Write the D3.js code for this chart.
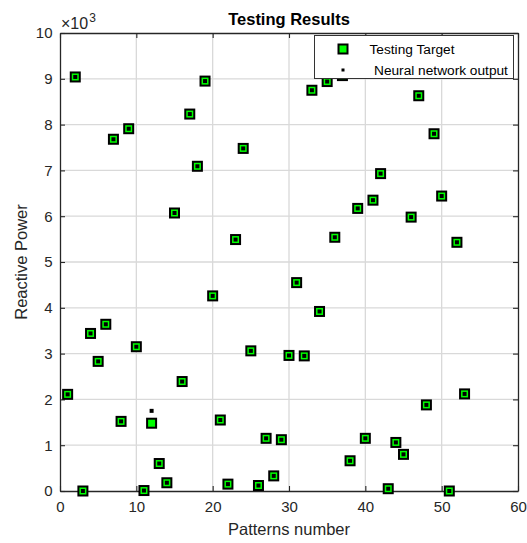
<!DOCTYPE html>
<html>
<head>
<meta charset="utf-8">
<script src="https://cdn.jsdelivr.net/npm/d3@7"></script>
<style>
  body { margin: 0; background: #fff; }
  text { font-family: "Liberation Sans", Arial, sans-serif; }
</style>
</head>
<body>
<div id="chart"></div>
<script>
// pattern index (x) and the two series
const patterns = [1, 2, 3, 4, 5, 6, 7, 8, 9, 10, 11, 12, 13, 14, 15, 16, 17, 18, 19, 20,
  21, 22, 23, 24, 25, 26, 27, 28, 29, 30, 31, 32, 33, 34, 35, 36, 37, 38, 39, 40,
  41, 42, 43, 44, 45, 46, 47, 48, 49, 50, 51, 52, 53];
const testingTarget = [2110, 9040, 0, 3440, 2830, 3640, 7680, 1520, 7910, 3150,
  10, 1480, 600, 180, 6070, 2390, 8230, 7090, 8950, 4260,
  1550, 150, 5490, 7480, 3060, 120, 1150, 330, 1120, 2960,
  4550, 2950, 8750, 3920, 8940, 5540, 9070, 660, 6170, 1150,
  6350, 6930, 50, 1060, 800, 5980, 8630, 1880, 7800, 6440,
  0, 5430, 2120];
const networkOutput = [2110, 9040, 0, 3440, 2830, 3640, 7680, 1520, 7910, 3150,
  10, 1750, 600, 180, 6070, 2390, 8230, 7090, 8950, 4260,
  1550, 150, 5490, 7480, 3060, 120, 1150, 330, 1120, 2960,
  4550, 2950, 8750, 3920, 8940, 5540, 9070, 660, 6170, 1150,
  6350, 6930, 50, 1060, 800, 5980, 8630, 1880, 7800, 6440,
  0, 5430, 2120];
const xTicks = [0, 10, 20, 30, 40, 50, 60];
const yTicks = [0, 1000, 2000, 3000, 4000, 5000, 6000, 7000, 8000, 9000, 10000];
const legendLabels = ['Testing Target', 'Neural network output'];

const width = 527;
const height = 543;
const margin = { top: 33, right: 9, bottom: 52, left: 60 };
const axisColor = '#262626';

const svg = d3.select('#chart')
  .append('svg')
  .attr('width', width)
  .attr('height', height);

const chartWidth = width - margin.left - margin.right;
const chartHeight = height - margin.top - margin.bottom;

const chart = svg.append('g')
  .attr('transform', `translate(${margin.left},${margin.top})`);

const xScale = d3.scaleLinear().domain([0, 60]).range([0, chartWidth]);
const yScale = d3.scaleLinear().domain([0, 10000]).range([chartHeight, 0]);

// grid
chart.append('g')
  .attr('class', 'grid')
  .selectAll('line.gx')
  .data(xTicks.slice(1, -1))
  .enter().append('line')
  .attr('x1', d => xScale(d)).attr('x2', d => xScale(d))
  .attr('y1', 0).attr('y2', chartHeight)
  .attr('stroke', '#d9d9d9').attr('stroke-width', 1.3);
chart.select('.grid')
  .selectAll('line.gy')
  .data(yTicks.slice(1, -1))
  .enter().append('line')
  .attr('x1', 0).attr('x2', chartWidth)
  .attr('y1', d => yScale(d)).attr('y2', d => yScale(d))
  .attr('stroke', '#d9d9d9').attr('stroke-width', 1.3);

// axes, ticks pointing inward on all four sides
const xAxis = d3.axisBottom(xScale).tickValues(xTicks).tickSizeInner(-5).tickSizeOuter(0).tickPadding(12);
const yAxis = d3.axisLeft(yScale).tickValues(yTicks).tickSizeInner(-5).tickSizeOuter(0)
  .tickPadding(12).tickFormat(d => d / 1000);

const gx = chart.append('g')
  .attr('transform', `translate(0,${chartHeight})`)
  .call(xAxis);
const gy = chart.append('g').call(yAxis);
const gxTop = chart.append('g')
  .call(d3.axisTop(xScale).tickValues(xTicks).tickSizeInner(-5).tickSizeOuter(0).tickFormat(''));
const gyRight = chart.append('g')
  .attr('transform', `translate(${chartWidth},0)`)
  .call(d3.axisRight(yScale).tickValues(yTicks).tickSizeInner(-5).tickSizeOuter(0).tickFormat(''));

[gx, gy, gxTop, gyRight].forEach(g => {
  g.select('.domain').attr('stroke', axisColor).attr('stroke-width', 1.3);
  g.selectAll('.tick line').attr('stroke', axisColor).attr('stroke-width', 1.1);
  g.selectAll('.tick text')
    .attr('fill', axisColor)
    .style('font-size', '15px');
});
gx.selectAll('.tick text').attr('dy', '0.71em').attr('y', 10);
gy.selectAll('.tick text').attr('x', -7.5);

// exponent label
const expLabel = chart.append('text')
  .attr('x', 1)
  .attr('y', -4.5)
  .attr('fill', axisColor)
  .style('font-size', '16px');
expLabel.append('tspan').text('\u00d710');
expLabel.append('tspan').attr('dx', 1).attr('dy', -7).style('font-size', '12px').text('3');

// title and axis labels
svg.append('text')
  .attr('x', margin.left + chartWidth / 2)
  .attr('y', 25)
  .attr('text-anchor', 'middle')
  .style('font-size', '16.5px')
  .style('font-weight', 'bold')
  .attr('fill', '#000')
  .text('Testing Results');

svg.append('text')
  .attr('x', margin.left + chartWidth / 2)
  .attr('y', 535)
  .attr('text-anchor', 'middle')
  .style('font-size', '16.5px')
  .attr('fill', axisColor)
  .text('Patterns number');

svg.append('text')
  .attr('transform', `translate(27,${margin.top + chartHeight / 2}) rotate(-90)`)
  .attr('text-anchor', 'middle')
  .style('font-size', '16.5px')
  .attr('fill', axisColor)
  .text('Reactive Power');

// series 1: green squares
chart.selectAll('.target')
  .data(patterns)
  .enter().append('rect')
  .attr('class', 'target')
  .attr('x', (d, i) => xScale(d) - 4.5)
  .attr('y', (d, i) => yScale(testingTarget[i]) - 4.5)
  .attr('width', 9)
  .attr('height', 9)
  .attr('fill', '#00ff00')
  .attr('stroke', '#000')
  .attr('stroke-width', 2);

// series 2: black dots
chart.selectAll('.output')
  .data(patterns)
  .enter().append('rect')
  .attr('class', 'output')
  .attr('x', (d, i) => xScale(d) - 2)
  .attr('y', (d, i) => yScale(networkOutput[i]) - 2)
  .attr('width', 4)
  .attr('height', 4)
  .attr('fill', '#000');

// legend
const legend = svg.append('g');
legend.append('rect')
  .attr('x', 314.5).attr('y', 35.5)
  .attr('width', 199).attr('height', 43)
  .attr('fill', '#fff')
  .attr('stroke', '#333')
  .attr('stroke-width', 1);
legend.append('rect')
  .attr('x', 343 - 4.5).attr('y', 49 - 4.5)
  .attr('width', 9).attr('height', 9)
  .attr('fill', '#00ff00').attr('stroke', '#000').attr('stroke-width', 2);
legend.append('rect')
  .attr('x', 343 - 1.5).attr('y', 70 - 1.5)
  .attr('width', 3).attr('height', 3)
  .attr('fill', '#000');
legend.append('text')
  .attr('x', 369.5).attr('y', 49).attr('dy', '0.35em')
  .style('font-size', '13.7px').attr('fill', '#000')
  .text(legendLabels[0]);
legend.append('text')
  .attr('x', 374).attr('y', 70).attr('dy', '0.35em')
  .style('font-size', '13.7px').attr('fill', '#000')
  .text(legendLabels[1]);
</script>
</body>
</html>
